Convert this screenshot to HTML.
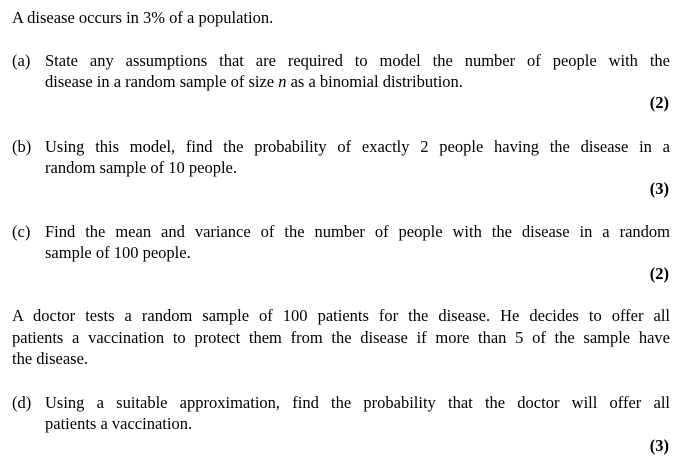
<!DOCTYPE html>
<html>
<head>
<meta charset="utf-8">
<style>
  html,body{margin:0;padding:0;background:#fff;}
  body{width:680px;height:465px;position:relative;overflow:hidden;font-family:"Liberation Serif","Times New Roman",serif;font-size:16.5px;color:#000;}
  .ln{position:absolute;height:20px;line-height:20px;white-space:nowrap;}
  .j{text-align:justify;text-align-last:justify;white-space:normal;}
  .lbl{position:absolute;left:12px;height:20px;line-height:20px;}
  .mk{position:absolute;right:11px;font-weight:bold;height:20px;line-height:20px;}
</style>
</head>
<body>
  <div class="ln" style="left:12px;top:8px;">A disease occurs in 3% of a population.</div>

  <div>
    <div class="lbl" style="top:51px;">(a)</div>
    <div class="ln j" style="left:45px;width:625px;top:51px;">State any assumptions that are required to model the number of people with the</div>
    <div class="ln" style="left:45px;top:72px;">disease in a random sample of size <i>n</i> as a binomial distribution.</div>
    <div class="mk" style="top:93px;">(2)</div>
  </div>

  <div>
    <div class="lbl" style="top:137px;">(b)</div>
    <div class="ln j" style="left:45px;width:625px;top:137px;">Using this model, find the probability of exactly 2 people having the disease in a</div>
    <div class="ln" style="left:45px;top:158px;">random sample of 10 people.</div>
    <div class="mk" style="top:179px;">(3)</div>
  </div>

  <div>
    <div class="lbl" style="top:222px;">(c)</div>
    <div class="ln j" style="left:45px;width:625px;top:222px;">Find the mean and variance of the number of people with the disease in a random</div>
    <div class="ln" style="left:45px;top:243px;">sample of 100 people.</div>
    <div class="mk" style="top:264px;">(2)</div>
  </div>

  <div>
    <div class="ln j" style="left:12px;width:658px;top:306px;">A doctor tests a random sample of 100 patients for the disease. He decides to offer all</div>
    <div class="ln j" style="left:12px;width:658px;top:328px;">patients a vaccination to protect them from the disease if more than 5 of the sample have</div>
    <div class="ln" style="left:12px;top:349px;">the disease.</div>
  </div>

  <div>
    <div class="lbl" style="top:393px;">(d)</div>
    <div class="ln j" style="left:45px;width:625px;top:393px;">Using a suitable approximation, find the probability that the doctor will offer all</div>
    <div class="ln" style="left:45px;top:414px;">patients a vaccination.</div>
    <div class="mk" style="top:436px;">(3)</div>
  </div>
</body>
</html>
